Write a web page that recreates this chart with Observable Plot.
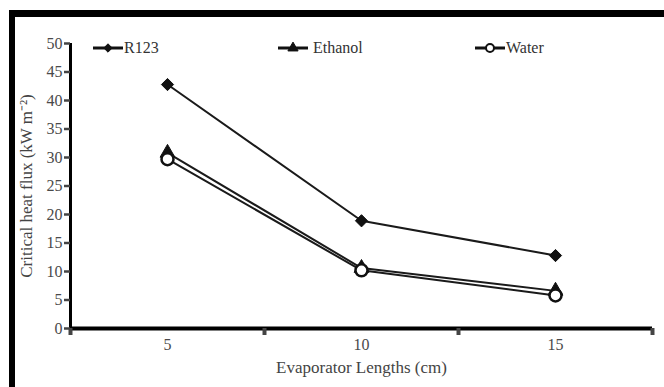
<!DOCTYPE html>
<html><head>
<meta charset="utf-8">
<script src="https://cdn.jsdelivr.net/npm/d3@7"></script>
<script src="https://cdn.jsdelivr.net/npm/@observablehq/plot@0.6"></script>
<style>
body{margin:0;background:#fff;width:664px;height:387px;overflow:hidden;position:relative;font-family:"Liberation Serif","Times New Roman",serif;}
#chart{position:absolute;left:0;top:0;}
#frame{position:absolute;left:9px;top:10px;right:-10px;bottom:-10px;border-top:7px solid #000;border-left:6px solid #000;pointer-events:none;}
.leg{position:absolute;top:39px;display:flex;align-items:center;font-family:"Liberation Serif","Times New Roman",serif;font-size:16px;color:#333;}
.leg svg{display:block;}
</style>
</head><body>
<div id="chart"></div>
<div id="frame"></div>
<div id="legendHost"></div>
<script>
const lengths = [5, 10, 15];
const r123 = [42.8, 18.9, 12.8];
const ethanol = [30.8, 10.6, 6.6];
const water = [29.7, 10.2, 5.8];
const seriesNames = ["R123", "Ethanol", "Water"];
const yTicks = [0, 5, 10, 15, 20, 25, 30, 35, 40, 45, 50];
const xTickLabels = [5, 10, 15];
const xBandEdges = [2.5, 7.5, 12.5, 17.5];

const seriesValues = [r123, ethanol, water];
const rows = seriesNames.flatMap((s, i) => lengths.map((L, j) => ({series: s, x: L, y: seriesValues[i][j]})));
const symbolOf = {R123: "diamond2", Ethanol: "triangle", Water: "circle"};
const fillOf = {R123: "#111", Ethanol: "#111", Water: "#fff"};
const rOf = {R123: 5.5, Ethanol: 5.5, Water: 6};

const marks = [
  Plot.ruleY([0], {stroke: "#000", strokeWidth: 4}),
  Plot.ruleX([xBandEdges[0]], {stroke: "#000", strokeWidth: 3}),
  Plot.axisY({ticks: yTicks, tickSize: 6, tickPadding: 2, strokeWidth: 2.5, fontSize: 16, fill: "#4a4a4a",
    label: "Critical heat flux (kW m\u207B\u00B2)", labelAnchor: "center", labelArrow: false, labelOffset: 51}),
  Plot.axisX({ticks: xBandEdges, tickSize: 7, tickFormat: () => "", strokeWidth: 4, label: null}),
  Plot.axisX({ticks: xTickLabels, tickSize: 0, tickPadding: 10, fontSize: 16, fill: "#4a4a4a",
    label: "Evaporator Lengths (cm)", labelAnchor: "center", labelArrow: false, labelOffset: 44})
];
for (const s of seriesNames) {
  const d = rows.filter(r => r.series === s);
  marks.push(Plot.line(d, {x: "x", y: "y", stroke: "#1a1a1a", strokeWidth: 2}));
}
for (const s of seriesNames) {
  const d = rows.filter(r => r.series === s);
  marks.push(Plot.dot(d, {x: "x", y: "y", symbol: () => symbolOf[s], r: rOf[s], fill: fillOf[s], stroke: "#111", strokeWidth: s === "Water" ? 2.5 : 1}));
}

const chart = Plot.plot({
  width: 664, height: 387,
  marginTop: 43, marginBottom: 59, marginLeft: 70, marginRight: 12,
  x: {domain: [xBandEdges[0], xBandEdges[xBandEdges.length - 1]]},
  y: {domain: [0, 50]},
  symbol: {type: "identity"},
  style: {fontFamily: "'Liberation Serif', 'Times New Roman', serif", fontSize: "16px", color: "#444", background: "#fff"},
  marks
});
document.getElementById("chart").append(chart);
chart.querySelectorAll("g[aria-label='x-axis label'] text, g[aria-label='y-axis label'] text").forEach(t => { t.setAttribute("font-size", "17"); t.setAttribute("fill", "#444"); });

// legend
const legLefts = {R123: 92, Ethanol: 277, Water: 474};
const host = document.getElementById("legendHost");
for (const s of seriesNames) {
  const div = document.createElement("div");
  div.className = "leg";
  div.style.left = legLefts[s] + "px";
  const sw = d3.create("svg").attr("width", 32).attr("height", 18);
  sw.append("line").attr("x1", 1).attr("x2", 31).attr("y1", 9).attr("y2", 9).attr("stroke", "#111").attr("stroke-width", 3);
  const sym = {R123: d3.symbolDiamond2, Ethanol: d3.symbolTriangle, Water: d3.symbolCircle}[s];
  const size = s === "Water" ? 50 : 45;
  sw.append("path").attr("d", d3.symbol(sym, size)()).attr("transform", "translate(16,9)")
    .attr("fill", fillOf[s]).attr("stroke", "#111").attr("stroke-width", s === "Water" ? 2 : 1);
  div.append(sw.node());
  const span = document.createElement("span");
  span.textContent = (s === "Ethanol" ? "\u00A0" : "") + s;
  div.append(span);
  host.append(div);
}
</script>
</body></html>
